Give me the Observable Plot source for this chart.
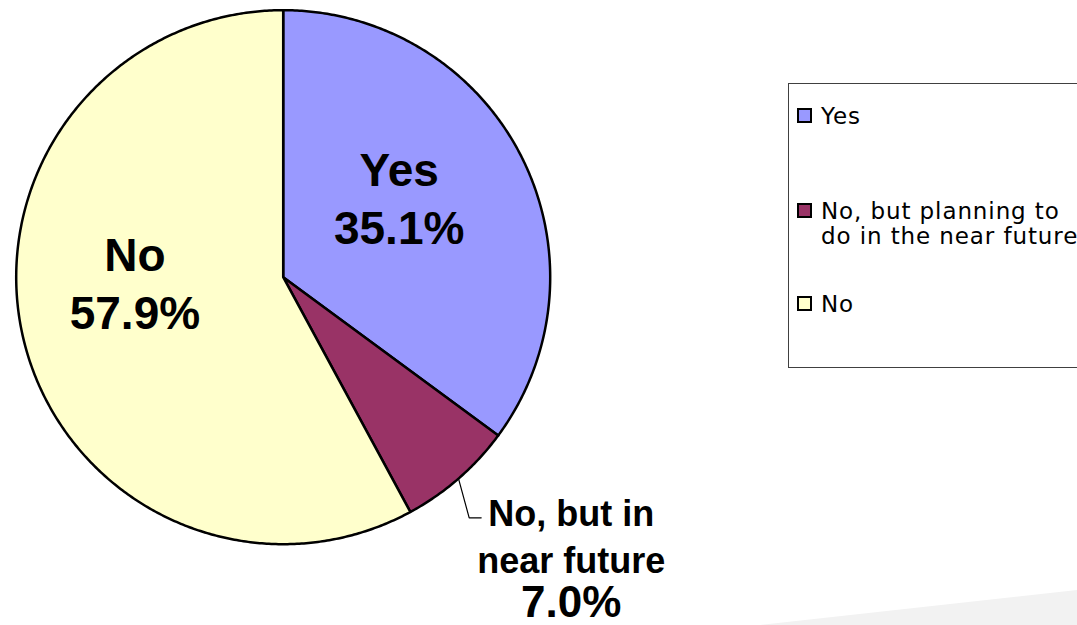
<!DOCTYPE html>
<html>
<head>
<meta charset="utf-8">
<script src="https://cdn.jsdelivr.net/npm/d3@7"></script>
<script src="https://cdn.jsdelivr.net/npm/@observablehq/plot@0.6"></script>
<style>
  html, body { margin: 0; padding: 0; background: #fff; overflow: hidden; }
  #wrap { position: relative; width: 1077px; height: 625px; }
  #bgshape { position: absolute; left: 0; top: 0; width: 1077px; height: 625px;
    background: #f2f2f2; clip-path: polygon(760px 625px, 1077px 590px, 1077px 625px); }
  #chart { position: absolute; left: 0; top: 0; }
  #legend { position: absolute; left: 788px; top: 83px; width: 320px; height: 283px;
    border: 1px solid #404040; background: #fff; font-family: "DejaVu Sans", sans-serif;
    font-size: 23px; letter-spacing: 0.9px; color: #000; }
  .item { position: absolute; left: 32px; line-height: 25px; white-space: nowrap; }
  .sw { position: absolute; left: 8px; width: 15px; height: 15px; box-sizing: border-box; border: 2px solid #000; }
</style>
</head>
<body>
<div id="wrap">
  <div id="bgshape"></div>
  <div id="chart"></div>
  <div id="legend"></div>
</div>
<script>
// ---- data ----
const categories = ["Yes", "No, but planning to do in the near future", "No"];
const values = [35.1, 7.0, 57.9];
const sliceLabels = ["Yes", "No, but in\nnear future", "No"];
const colors = ["#9999FF", "#993366", "#FFFFCC"];
const legendLabels = ["Yes", "No, but planning to\ndo in the near future", "No"];

// ---- geometry (pie layout from data) ----
const cx = 282.7, cy = 276.7, R = 267;
const pie = d3.pie().sort(null).startAngle(0).endAngle(2 * Math.PI);
const arcs = pie(values);
const polar = (a, r) => ({ x: r * Math.sin(a), y: r * Math.cos(a) });

const polyPts = [];
arcs.forEach((a, i) => {
  polyPts.push({ key: categories[i], ...polar(0, 0) });
  const n = Math.max(2, Math.ceil((a.endAngle - a.startAngle) / (Math.PI / 360)));
  for (let k = 0; k <= n; k++) {
    const t = a.startAngle + (a.endAngle - a.startAngle) * k / n;
    polyPts.push({ key: categories[i], ...polar(t, 1) });
  }
});

const mid = arcs.map(a => (a.startAngle + a.endAngle) / 2);
const fmt = v => v.toFixed(1) + "%";

// inside labels (Yes, No)
const inside = [0, 2].map(i => ({
  text: sliceLabels[i] + "\n" + fmt(values[i]),
  ...polar(mid[i], 0.6), i
}));

// outside label for small slice
const edge = polar(mid[1], 1);
const bend = { x: edge.x + 0.04, y: edge.y - 0.147 };
const lend = { x: bend.x + 0.045, y: bend.y };
const leader = [edge, bend, lend];
const outAnchor = { x: lend.x + 0.337, y: lend.y };

const font = "Liberation Sans, Arial, sans-serif";
const chart = Plot.plot({
  width: 1077,
  height: 625,
  margin: 0,
  x: { domain: [-1, 1], range: [cx - R, cx + R], axis: null },
  y: { domain: [-1, 1], range: [cy + R, cy - R], axis: null },
  color: { domain: categories, range: colors },
  marks: [
    Plot.line(polyPts, { x: "x", y: "y", z: "key", fill: "key", stroke: "#000",
      strokeWidth: 2.5, curve: "linear-closed", strokeLinejoin: "round" }),
    Plot.text([inside[0]], { x: "x", y: "y", text: "text", dx: -27, dy: -8,
      fontSize: 46, fontWeight: "bold", fontFamily: font, lineHeight: 1.26, fill: "#000" }),
    Plot.text([inside[1]], { x: "x", y: "y", text: "text", dx: 7, dy: -35,
      fontSize: 46, fontWeight: "bold", fontFamily: font, lineHeight: 1.26, fill: "#000" }),
    Plot.line(leader, { x: "x", y: "y", stroke: "#000", strokeWidth: 1.2 }),
    Plot.text([outAnchor], { x: "x", y: "y", text: () => sliceLabels[1],
      fontSize: 36, fontWeight: "bold", fontFamily: font,
      lineAnchor: "top", dy: -24.6, lineHeight: 1.3, fill: "#000" }),
    Plot.text([outAnchor], { x: "x", y: "y", text: () => fmt(values[1]),
      fontSize: 44, fontWeight: "bold", fontFamily: font,
      lineAnchor: "top", dy: 68, fill: "#000" })
  ]
});
document.getElementById("chart").appendChild(chart);

// ---- legend ----
const legend = document.getElementById("legend");
const tops = [20, 115, 208];
legendLabels.forEach((lab, i) => {
  const sw = document.createElement("div");
  sw.className = "sw";
  sw.style.top = (tops[i] + 4) + "px";
  sw.style.background = colors[i];
  legend.appendChild(sw);
  const it = document.createElement("div");
  it.className = "item";
  it.style.top = tops[i] + "px";
  it.innerHTML = lab.split("\n").join("<br>");
  legend.appendChild(it);
});
</script>
</body>
</html>
